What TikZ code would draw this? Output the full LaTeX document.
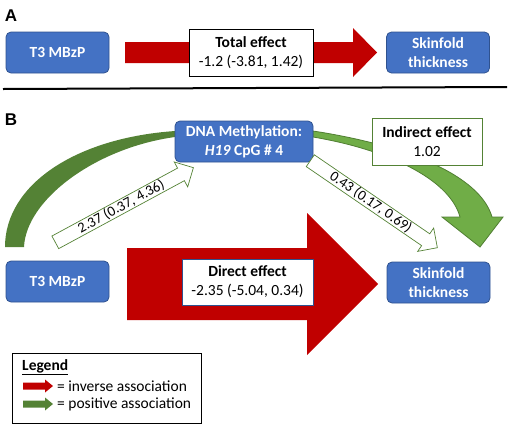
\documentclass[tikz,border=0pt]{standalone}
\usepackage{fontspec}
\setmainfont{Carlito}
\newfontfamily\panelfont{Liberation Sans}
\usetikzlibrary{
    arrows.meta,
    positioning,
    calc,
    shapes.arrows
}
\definecolor{mdBlue}{HTML}{4472C4}
\definecolor{mdBlueEdge}{HTML}{2F528F}
\definecolor{mdRed}{HTML}{C00000}
\definecolor{mdGreen}{HTML}{70AD47}
\definecolor{mdGreenDark}{HTML}{548235}
\definecolor{mdGreenEdge}{HTML}{507E32}

\tikzset{
    varbox/.style={rounded corners=5pt,fill=mdBlue,draw=mdBlueEdge,line width=0.8pt,
        text=white,font=\fontsize{15.5}{19}\selectfont\bfseries,align=center,
        minimum width=103pt,minimum height=41pt,inner sep=0pt},
    effectbox/.style={fill=white,draw=black,line width=0.8pt,align=center,
        font=\fontsize{15.5}{19}\selectfont,inner sep=0pt},
    pathlabel/.style={single arrow,draw=mdGreenDark,fill=white,line width=0.7pt,
        font=\fontsize{14.5}{16}\selectfont,inner xsep=2pt,inner ysep=0.5pt,
        single arrow head extend=7pt,anchor=tail},
    panellabel/.style={font=\panelfont\fontsize{17}{17}\selectfont\bfseries,inner sep=0pt}
}

\begin{document}
\begin{tikzpicture}[x=1pt,y=-1pt]
    \useasboundingbox (0,0) rectangle (510,426);

    % Panel A
    \node[panellabel] (labA) at (11,16) {A};
    \fill[mdRed] (125,42) -- (353,42) -- (353,28) -- (377,52.5) -- (353,77) -- (353,63) -- (125,63) -- cycle;
    \node[varbox] (t3a) at (57.5,52.5) {T3 MBzP};
    \node[varbox] (skina) at (438,52.5) {Skinfold\\thickness};
    \node[effectbox,minimum width=124pt,minimum height=47pt] (totala) at (251,52.5)
        {\textbf{Total effect}\\-1.2 (-3.81, 1.42)};

    % Divider
    \draw[line width=2pt] (3,89) -- (507,87);

    % Panel B
    \node[panellabel] (labB) at (11,119.5) {B};

    % Green curved paths (drawn first, boxes sit on top)
    \fill[mdGreenDark] (5,247) .. controls (5,185) and (75,138) .. (175,131)
        -- (175,137) .. controls (95,148) and (26,200) .. (24,247) -- cycle;
    \filldraw[fill=mdGreen,draw=mdGreenEdge,line width=0.8pt]
        (313,131) .. controls (405,145) and (480,175) .. (492,217)
        -- (503,217) -- (480,247) -- (442,217) -- (460,217)
        .. controls (450,180) and (390,150) .. (313,137) -- cycle;

    % Direct effect arrow
    \fill[mdRed] (127,248) -- (307,248) -- (307,213) -- (378,284) -- (307,355) -- (307,320) -- (127,320) -- cycle;

    \node[varbox,minimum width=138pt] (dna) at (244,141.5)
        {DNA Methylation:\\\textit{H19} CpG \# 4};
    \node[varbox] (t3b) at (57.5,281.5) {T3 MBzP};
    \node[varbox] (skinb) at (438.5,282.5) {Skinfold\\thickness};

    \node[effectbox,draw=mdGreenDark,minimum width=110pt,minimum height=47pt] (indirect) at (427,141.5)
        {\textbf{Indirect effect}\\1.02};
    \node[effectbox,draw=mdBlueEdge,minimum width=131pt,minimum height=46pt] (direct) at (247.5,282)
        {\textbf{Direct effect}\\-2.35 (-5.04, 0.34)};

    % Path coefficients
    \node[pathlabel,rotate=28.4,minimum height=157pt] (pathA) at (55,242.5) {2.37 (0.37, 4.36)};
    \node[pathlabel,rotate=-34.4,minimum height=154pt] (pathB) at (310,160.5) {0.43 (0.17, 0.69)};

    % Legend
    \draw[line width=1pt] (12,353) rectangle (201,423);
    \node[anchor=base west,font=\fontsize{15.5}{17}\selectfont\bfseries,inner sep=0pt] (legTitle) at (22,370)
        {\underline{Legend}};
    \foreach \yy/\col/\kind in {386/mdRed/inverse,404/mdGreenDark/positive}{
        \fill[\col] (23,\yy-3.5) -- (45,\yy-3.5) -- (45,\yy-6.5) -- (53,\yy) -- (45,\yy+6.5)
            -- (45,\yy+3.5) -- (23,\yy+3.5) -- cycle;
        \node[anchor=west,font=\fontsize{15.5}{17}\selectfont,inner sep=0pt] (leg\kind) at (57,\yy)
            {= \kind\ association};
    }
\end{tikzpicture}
\end{document}
